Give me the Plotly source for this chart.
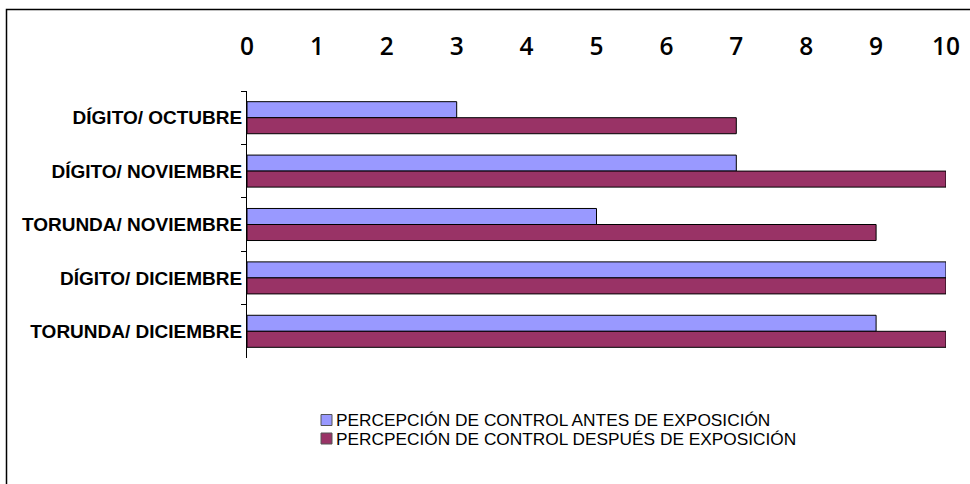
import plotly.graph_objects as go

categories = [
    "DÍGITO/ OCTUBRE",
    "DÍGITO/ NOVIEMBRE",
    "TORUNDA/ NOVIEMBRE",
    "DÍGITO/ DICIEMBRE",
    "TORUNDA/ DICIEMBRE",
]
antes = [3, 7, 5, 10, 9]
despues = [7, 10, 9, 10, 10]
series_names = [
    "PERCEPCIÓN DE CONTROL ANTES DE EXPOSICIÓN",
    "PERCPECIÓN DE CONTROL DESPUÉS DE EXPOSICIÓN",
]
colors = ["#9999FF", "#993366"]
x_ticks = list(range(0, 11))

W, H = 970, 484
L, R, T, B = 247, 24, 91, 126
pw, ph = W - L - R, H - T - B

fig = go.Figure()
for name, vals, col in zip(series_names, [antes, despues], colors):
    fig.add_trace(go.Bar(
        y=categories, x=vals, orientation="h", name=name,
        marker=dict(color=col, line=dict(color="black", width=1)),
        showlegend=False,
    ))

# hand-built legend (tight line spacing)
def px_to_paper(x, y):
    return (x - L) / pw, (H - B - y) / ph

leg_y = [420, 438.5]
for i, (name, col) in enumerate(zip(series_names, colors)):
    x0, y0 = px_to_paper(321, leg_y[i] - 5.5)
    x1, y1 = px_to_paper(332, leg_y[i] + 5.5)
    fig.add_shape(type="rect", xref="paper", yref="paper",
                  x0=x0, x1=x1, y0=y1, y1=y0,
                  fillcolor=col, line=dict(color="#555555", width=1))
    tx, ty = px_to_paper(334, leg_y[i])
    fig.add_annotation(xref="paper", yref="paper", x=tx, y=ty,
                       text=name, showarrow=False, xanchor="left", yanchor="middle",
                       font=dict(family="Liberation Sans", size=17.3, color="black"))

# outer frame
bx0, by0 = px_to_paper(6.5, 9.5)
bx1, by1 = px_to_paper(990, 500)
fig.add_shape(type="rect", xref="paper", yref="paper",
              x0=bx0, x1=bx1, y0=by1, y1=by0,
              line=dict(color="black", width=1.5), fillcolor="rgba(0,0,0,0)")

fig.update_layout(
    width=W, height=H,
    margin=dict(l=L, r=R, t=T, b=B),
    barmode="group", bargap=0.40, bargroupgap=0,
    plot_bgcolor="white", paper_bgcolor="white",
    xaxis=dict(
        side="top", range=[0, 10], tickvals=x_ticks, automargin=False,
        showgrid=False, zeroline=False, showline=False, ticks="",
        ticklabelstandoff=30,
        tickfont=dict(family="Open Sans", size=24.5, color="black", weight=600),
    ),
    yaxis=dict(
        autorange="reversed", showgrid=False, zeroline=False, automargin=False,
        showline=True, linecolor="black", linewidth=1,
        ticks="outside", tickson="boundaries", ticklen=5, tickcolor="black",
        tickfont=dict(family="Liberation Sans", size=19, color="black", weight="bold"),
    ),
)

fig.write_html("out.html")
